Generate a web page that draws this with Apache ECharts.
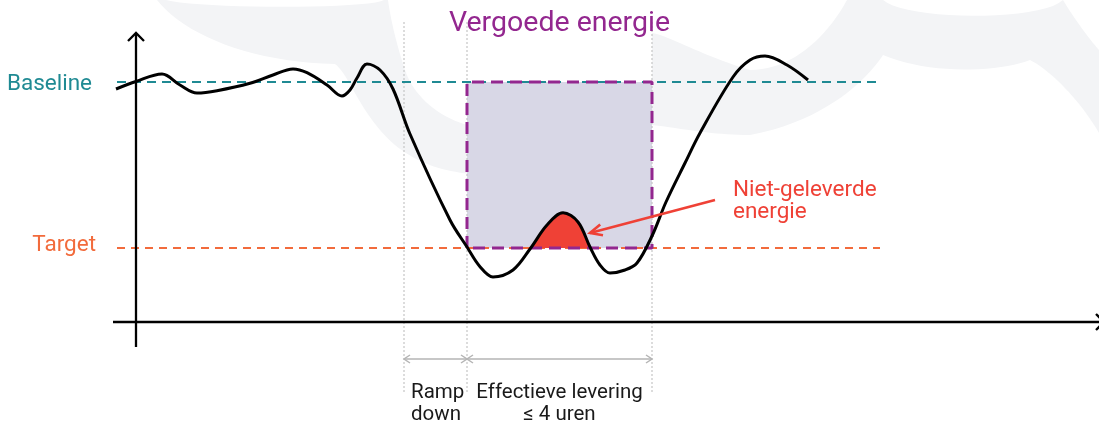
<!DOCTYPE html>
<html><head><meta charset="utf-8">
<script src="https://cdn.jsdelivr.net/npm/echarts@6/dist/echarts.min.js"></script>
<style>html,body{margin:0;padding:0;background:#fff;}#c{width:1099px;height:423px;}</style>
</head><body><div id="c"></div>
<script>
// ---- data (abstract units: time on x, power on y) ----
const curveX = [-2.0, 0, 2.6, 4.4, 6.1, 8.1, 11.4, 13.7, 15.7, 17.1, 19.1, 20.6, 21.4, 22.1, 23.1, 24.4, 25.7, 27.4, 31.4, 33.1, 34.4, 35.7, 37.7, 39.4, 41.1, 42.7, 44.2, 45.4, 46.4, 47.4, 48.9, 50.1, 51.6, 53.0, 54.9, 56.4, 59.7, 61.4, 62.9, 65.1, 67.2];
const curveY = [23.3, 24.05, 24.8, 23.7, 22.9, 23.13, 23.87, 24.7, 25.3, 24.93, 23.7, 22.6, 23.2, 24.4, 25.8, 25.2, 23.3, 18.8, 10.2, 7.5, 5.53, 4.5, 5.2, 7.3, 9.7, 10.93, 10.0, 7.5, 5.7, 4.9, 5.2, 5.9, 8.6, 12.0, 15.9, 18.9, 24.5, 26.2, 26.6, 25.7, 24.2];
const shortfallX = [39.55, 41.1, 42.7, 44.2, 45.35];
const shortfallY = [7.4, 9.7, 10.93, 10.0, 7.4];
const baselineValue = 24.0;
const targetValue = 7.4;
const rampDownStart = 26.8;
const deliveryStart = 33.1;
const deliveryEnd = 51.6;
const referenceLineStart = -1.9;
const referenceLineEnd = 74.4;
const textLabels = ['Baseline', 'Target', 'Vergoede energie', 'Niet-geleverde\nenergie', 'Ramp\ndown', 'Effectieve levering\n≤ 4 uren'];

// ---- styles / layout ----
const TEAL = '#1f8a93', ORANGE = '#f26b3c', PURPLE = '#93278f', RED = '#ef4136';
const FONT = 'Roboto, "Open Sans", sans-serif';
const textLayout = [
  {at: [-4.4, baselineValue - 0.25], align: 'right', color: TEAL, size: 22.5},
  {at: [-4.0, targetValue + 0.25], align: 'right', color: ORANGE, size: 22.5},
  {at: [(deliveryStart + deliveryEnd) / 2, 29.8], align: 'center', color: PURPLE, size: 28.5},
  {at: [59.7, 12.1], align: 'left', color: RED, size: 22.5, lh: 22},
  {at: [27.5, -8.2], align: 'left', color: '#1a1a1a', size: 20.5, lh: 22},
  {at: [(deliveryStart + deliveryEnd) / 2, -8.2], align: 'center', color: '#1a1a1a', size: 20.5, lh: 22}
];
const dimY = -3.7;
const axisArrows = [[0, -2.5, 0, 28.9, 0, 1], [-2.3, 0, 96.8, 0, 0, 1]];
const dimArrows = [[rampDownStart, dimY, deliveryStart, dimY, 1, 1], [deliveryStart, dimY, deliveryEnd, dimY, 1, 1]];
const pointerArrows = [[57.9, 12.2, 45.4, 8.9, 0, 1]];
const guideLines = [rampDownStart, deliveryStart, deliveryEnd].map(x => [x, 30.0, x, -7.0]);

function chevron(tip, from, len, hw) {
  const dx = tip[0] - from[0], dy = tip[1] - from[1];
  const L = Math.hypot(dx, dy) || 1, ux = dx / L, uy = dy / L, px = -uy, py = ux;
  return [[tip[0] - ux * len + px * hw, tip[1] - uy * len + py * hw], tip, [tip[0] - ux * len - px * hw, tip[1] - uy * len - py * hw]];
}
function arrowSeries(data, color, width, len, hw, z) {
  return {
    type: 'custom', z: z, silent: true, data: data,
    renderItem: function (params, api) {
      const p1 = api.coord([api.value(0), api.value(1)]);
      const p2 = api.coord([api.value(2), api.value(3)]);
      const children = [{type: 'line', shape: {x1: p1[0], y1: p1[1], x2: p2[0], y2: p2[1]}, style: {stroke: color, lineWidth: width}}];
      if (api.value(4)) children.push({type: 'polyline', shape: {points: chevron(p1, p2, len, hw)}, style: {stroke: color, lineWidth: width, fill: null}});
      if (api.value(5)) children.push({type: 'polyline', shape: {points: chevron(p2, p1, len, hw)}, style: {stroke: color, lineWidth: width, fill: null}});
      return {type: 'group', children: children};
    }
  };
}
// background watermark: sample simple M/C/L/Z paths into polygons
function pathToPoints(d) {
  const t = d.replace(/,/g, ' ').trim().split(/\s+|(?=[MCLZ])|(?<=[MCLZ])/).filter(s => s.length);
  const pts = []; let i = 0, cur = [0, 0], cmd = null;
  while (i < t.length) {
    if (/^[MCLZ]$/.test(t[i])) { cmd = t[i]; i++; if (cmd === 'Z') continue; }
    if (cmd === 'M' || cmd === 'L') { cur = [+t[i], +t[i + 1]]; pts.push(cur); i += 2; }
    else if (cmd === 'C') {
      const c1 = [+t[i], +t[i + 1]], c2 = [+t[i + 2], +t[i + 3]], e = [+t[i + 4], +t[i + 5]]; i += 6;
      for (let k = 1; k <= 20; k++) {
        const s = k / 20, u = 1 - s;
        pts.push([u*u*u*cur[0] + 3*u*u*s*c1[0] + 3*u*s*s*c2[0] + s*s*s*e[0], u*u*u*cur[1] + 3*u*u*s*c1[1] + 3*u*s*s*c2[1] + s*s*s*e[1]]);
      }
      cur = e;
    } else i++;
  }
  return pts;
}
const WM = '#f3f4f6';
const wmPaths = [
  'M157,0 C185,35 250,62 335,64 C350,75 360,115 395,145 C420,165 445,172 480,175 L480,128 C445,122 415,100 405,70 C395,40 390,15 388,0 L384,0 C370,9 200,9 166,0 Z',
  'M652,33 C670,36 700,55 750,70 C790,70 825,40 847,0 L883,0 C905,20 1040,22 1063,0 C1075,20 1090,40 1099,50 L1099,133 C1080,100 1050,70 1030,60 C1000,72 930,75 883,55 C870,75 830,120 750,135 C710,135 680,128 652,125 Z'
];

const option = {
  animation: false,
  backgroundColor: '#ffffff',
  grid: {left: 0, top: 0, width: 1099, height: 423},
  xAxis: {type: 'value', min: -13.6, max: 96.3, show: false},
  yAxis: {type: 'value', min: -10.1, max: 32.2, show: false},
  graphic: {elements: wmPaths.map(d => ({type: 'polygon', z: 0, silent: true, shape: {points: pathToPoints(d)}, style: {fill: WM}}))},
  series: [
    { // delivery window fill
      type: 'custom', z: 1, silent: true, data: [[deliveryStart, baselineValue, deliveryEnd, targetValue]],
      renderItem: function (params, api) {
        const a = api.coord([api.value(0), api.value(1)]), b = api.coord([api.value(2), api.value(3)]);
        return {type: 'rect', shape: {x: a[0], y: a[1], width: b[0] - a[0], height: b[1] - a[1]}, style: {fill: '#d8d7e6'}};
      }
    },
    { // guide lines
      type: 'custom', z: 2, silent: true, data: guideLines,
      renderItem: function (params, api) {
        const a = api.coord([api.value(0), api.value(1)]), b = api.coord([api.value(2), api.value(3)]);
        return {type: 'line', shape: {x1: a[0], y1: a[1], x2: b[0], y2: b[1]}, style: {stroke: '#c6c6c6', lineWidth: 1.2, lineDash: [2, 2]}};
      }
    },
    {type: 'line', z: 3, silent: true, symbol: 'none', data: [[referenceLineStart, baselineValue], [referenceLineEnd, baselineValue]], lineStyle: {color: TEAL, width: 2, type: [9, 6]}},
    {type: 'line', z: 3, silent: true, symbol: 'none', data: [[referenceLineStart, targetValue], [referenceLineEnd, targetValue]], lineStyle: {color: ORANGE, width: 1.8, type: [8, 6]}},
    {type: 'line', z: 4, silent: true, symbol: 'none', smooth: 0.35, data: shortfallX.map((x, i) => [x, shortfallY[i]]), lineStyle: {width: 0}, areaStyle: {color: RED, opacity: 1, origin: targetValue}},
    {type: 'line', z: 5, silent: true, symbol: 'none', data: [[deliveryStart, targetValue], [deliveryStart, baselineValue], [deliveryEnd, baselineValue], [deliveryEnd, targetValue], [deliveryStart, targetValue]], lineStyle: {color: PURPLE, width: 3, type: [12, 7]}},
    arrowSeries(axisArrows, '#000', 2.3, 8, 8, 6),
    arrowSeries(dimArrows, '#b5b5b5', 1.5, 6, 4, 6),
    {type: 'line', z: 7, silent: true, symbol: 'none', smooth: 0.35, data: curveX.map((x, i) => [x, curveY[i]]), lineStyle: {color: '#000', width: 3}},
    arrowSeries(pointerArrows, RED, 2.6, 12, 5.5, 8),
    { // text annotations
      type: 'custom', z: 9, silent: true, data: textLabels.map((t, i) => [i]),
      renderItem: function (params, api) {
        const i = api.value(0), L = textLayout[i], p = api.coord(L.at);
        return {type: 'text', x: p[0], y: p[1], style: {text: textLabels[i], fill: L.color, font: L.size + 'px ' + FONT, align: L.align, verticalAlign: 'middle', textAlign: L.align, textVerticalAlign: 'middle', lineHeight: L.lh || L.size * 1.2}};
      }
    }
  ]
};
const chart = echarts.init(document.getElementById('c'));
chart.setOption(option);
</script></body></html>
